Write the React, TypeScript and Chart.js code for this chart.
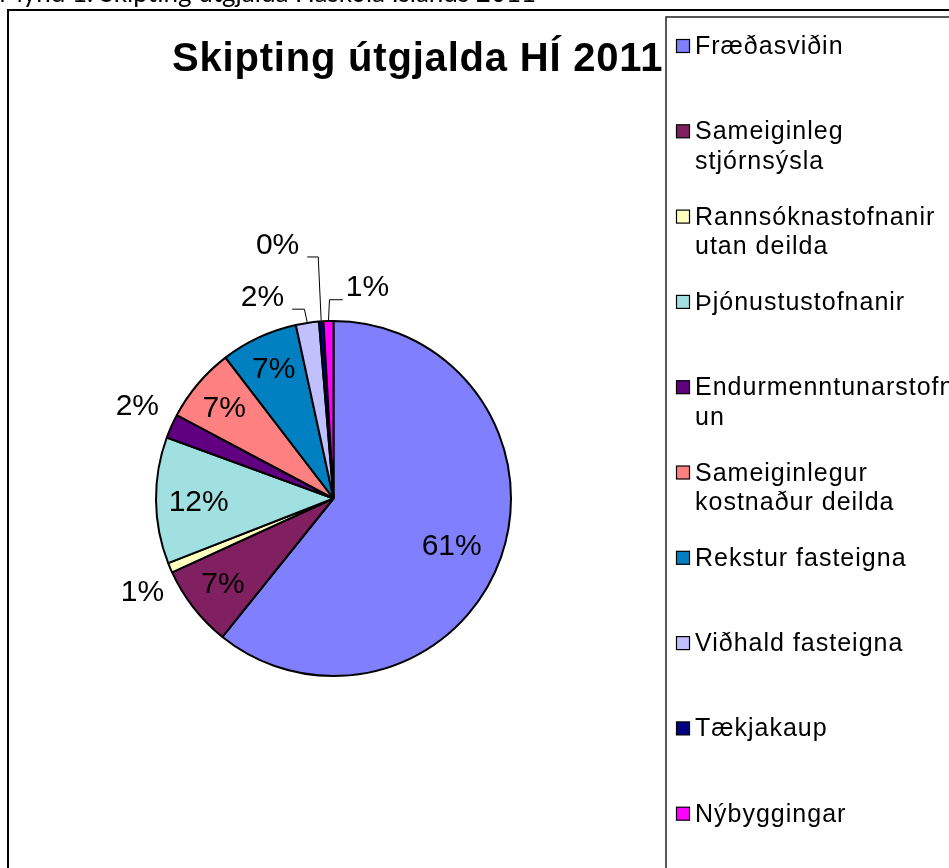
import { useEffect, useRef } from "react";
import { Chart, registerables } from "chart.js";

Chart.register(...registerables);

// ---- data ----
const categories = [
  "Fræðasviðin",
  "Sameiginleg stjórnsýsla",
  "Rannsóknastofnanir utan deilda",
  "Þjónustustofnanir",
  "Endurmenntunarstofnun",
  "Sameiginlegur kostnaður deilda",
  "Rekstur fasteigna",
  "Viðhald fasteigna",
  "Tækjakaup",
  "Nýbyggingar",
];
const legendLines = [
  ["Fræðasviðin"],
  ["Sameiginleg", "stjórnsýsla"],
  ["Rannsóknastofnanir", "utan deilda"],
  ["Þjónustustofnanir"],
  ["Endurmenntunarstofn", "un"],
  ["Sameiginlegur", "kostnaður deilda"],
  ["Rekstur fasteigna"],
  ["Viðhald fasteigna"],
  ["Tækjakaup"],
  ["Nýbyggingar"],
];
const shares = [60.7, 7.4, 0.9, 11.5, 2.2, 6.8, 7.0, 2.1, 0.4, 0.9];
const colors = [
  "#8080FF",
  "#802060",
  "#FFFFC0",
  "#A0E0E0",
  "#600080",
  "#FF8080",
  "#0080C0",
  "#C0C0FF",
  "#000080",
  "#FF00FF",
];
const chartTitle = "Skipting útgjalda HÍ 2011";
const caption = "Mynd 1. Skipting útgjalda Háskóla Íslands 2011";

// ---- label placement style (relative to each slice) ----
const labelRadius = [0.72, 0.79, 1.2, 0.76, 1.22, 0.795, 0.8, 1.2, 1.46, 1.2];
const labelShiftDeg = [3, 0, -3.3, -1, 1, -1, 0, -11, -8.5, 10.8];

const FONT = '"Liberation Sans", Arial, sans-serif';

const decorPlugin = {
  id: "decor",
  beforeDraw(chart: any) {
    const ctx = chart.ctx as CanvasRenderingContext2D;
    const W = chart.width;
    const H = chart.height;
    ctx.save();
    ctx.fillStyle = "#fff";
    ctx.fillRect(0, 0, W, H);
    // caption (cut off by the top edge)
    ctx.fillStyle = "#000";
    ctx.font = '26px Lato, "Open Sans", sans-serif';
    ctx.textAlign = "left";
    ctx.textBaseline = "alphabetic";
    ctx.fillText(caption, -1, 2);
    // outer frame
    ctx.strokeStyle = "#000";
    ctx.lineWidth = 2;
    ctx.strokeRect(8, 10, W + 20, H + 20);
    // chart title
    ctx.font = "bold 40px " + FONT;
    (ctx as any).letterSpacing = "0.8px";
    ctx.fillText(chartTitle, 172, 71);
    (ctx as any).letterSpacing = "0px";
    ctx.restore();
  },
  afterDatasetsDraw(chart: any) {
    const ctx = chart.ctx as CanvasRenderingContext2D;
    const meta = chart.getDatasetMeta(0);
    const total = shares.reduce((a, b) => a + b, 0);
    ctx.save();
    ctx.font = "30px " + FONT;
    ctx.fillStyle = "#000";
    ctx.textAlign = "center";
    ctx.textBaseline = "middle";
    meta.data.forEach((arc: any, i: number) => {
      const p = arc.getProps(["x", "y", "startAngle", "endAngle", "outerRadius"], true);
      const midOrig = (p.startAngle + p.endAngle) / 2;
      const mid = midOrig + (labelShiftDeg[i] * Math.PI) / 180;
      const r = p.outerRadius * labelRadius[i];
      const lx = p.x + Math.cos(mid) * r;
      const ly = p.y + Math.sin(mid) * r;
      const txt = Math.round((shares[i] / total) * 100) + "%";
      ctx.fillText(txt, lx, ly);
      if (Math.abs(labelShiftDeg[i]) > 5) {
        const w = ctx.measureText(txt).width;
        const px = p.x + Math.cos(midOrig) * p.outerRadius;
        const py = p.y + Math.sin(midOrig) * p.outerRadius;
        const base = ly + 11;
        let sx: number, ex: number;
        if (lx < px) {
          sx = lx + w / 2 + 8;
          ex = px - 3;
        } else {
          sx = lx - w / 2 - 3;
          ex = px + 1;
        }
        ctx.beginPath();
        ctx.strokeStyle = "#000";
        ctx.lineWidth = 1;
        ctx.moveTo(sx, base + 0.5);
        ctx.lineTo(ex, base + 0.5);
        ctx.lineTo(px, py);
        ctx.stroke();
      }
    });
    ctx.restore();
  },
  afterDraw(chart: any) {
    const ctx = chart.ctx as CanvasRenderingContext2D;
    const W = chart.width;
    const H = chart.height;
    ctx.save();
    // legend box
    const bx = 666;
    const by = 17;
    ctx.fillStyle = "#fff";
    ctx.fillRect(bx, by, W, H);
    ctx.strokeStyle = "#222";
    ctx.lineWidth = 1.5;
    ctx.strokeRect(bx, by, W + 20, H + 20);
    ctx.font = "25px " + FONT;
    (ctx as any).letterSpacing = "1px";
    ctx.textAlign = "left";
    ctx.textBaseline = "alphabetic";
    legendLines.forEach((lines, i) => {
      const base = 54 + i * 85.3;
      ctx.fillStyle = colors[i];
      ctx.fillRect(676.5, base - 14.5, 13, 13);
      ctx.strokeStyle = "#000";
      ctx.lineWidth = 1.2;
      ctx.strokeRect(676.5, base - 14.5, 13, 13);
      ctx.fillStyle = "#000";
      lines.forEach((ln, j) => {
        ctx.fillText(ln, 695, base + j * 29.5);
      });
    });
    (ctx as any).letterSpacing = "0px";
    ctx.restore();
  },
};

export default function App() {
  const ref = useRef<HTMLCanvasElement | null>(null);
  useEffect(() => {
    if (!ref.current) return;
    const chart = new Chart(ref.current, {
      type: "pie",
      data: {
        labels: categories,
        datasets: [
          {
            data: shares,
            backgroundColor: colors,
            borderColor: "#000",
            borderWidth: 2,
          },
        ],
      },
      options: {
        responsive: false,
        animation: false,
        events: [],
        layout: { padding: { left: 155, top: 320, right: 437, bottom: 191 } },
        plugins: {
          legend: { display: false },
          title: { display: false },
          tooltip: { enabled: false },
        },
      },
      plugins: [decorPlugin],
    });
    return () => chart.destroy();
  }, []);
  return (
    <canvas
      ref={ref}
      width={949}
      height={868}
      style={{ position: "absolute", left: 0, top: 0, width: 949, height: 868 }}
    />
  );
}
